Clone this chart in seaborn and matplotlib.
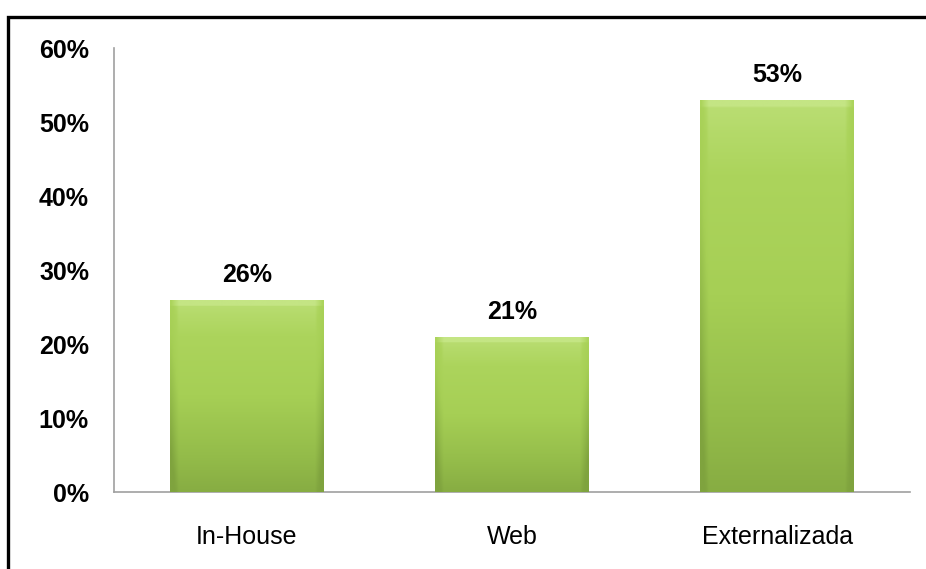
import numpy as np
import pandas as pd
import matplotlib
matplotlib.use("Agg")
import matplotlib.pyplot as plt
import seaborn as sns
from matplotlib.colors import LinearSegmentedColormap
from matplotlib.patches import Rectangle

# ── data ────────────────────────────────────────────────────────────────────
categories = ["In-House", "Web", "Externalizada"]
values = [26, 21, 53]
y_ticks = [0, 10, 20, 30, 40, 50, 60]
y_tick_labels = ["0%", "10%", "20%", "30%", "40%", "50%", "60%"]

df = pd.DataFrame({"categoria": categories, "valor": values})

sns.set_theme(style="white")
plt.rcParams["font.family"] = ["Liberation Sans", "DejaVu Sans"]
plt.rcParams["text.color"] = "black"
plt.rcParams["xtick.color"] = "black"
plt.rcParams["ytick.color"] = "black"

fig = plt.figure(figsize=(9.26, 5.69), dpi=100)
ax = fig.add_axes([114 / 926, 77 / 569, 796 / 926, 444 / 569])

sns.barplot(data=df, x="categoria", y="valor", ax=ax, color="#a6cf55",
            width=0.58, saturation=1, edgecolor="none")

ax.set_ylim(0, 60)
ax.set_xlim(-0.5, len(categories) - 0.5)
ax.set_yticks(y_ticks)
ax.set_yticklabels(y_tick_labels, fontsize=18, fontweight="bold", color="black")
ax.set_xticks(range(len(categories)))
ax.set_xticklabels(categories, fontsize=18, color="black")
ax.tick_params(axis="y", length=0, pad=18)
ax.tick_params(axis="x", length=0, pad=24)
ax.set_xlabel("")
ax.set_ylabel("")

for side in ["top", "right"]:
    ax.spines[side].set_visible(False)
for side in ["left", "bottom"]:
    ax.spines[side].set_color("#a0a0a0")
    ax.spines[side].set_linewidth(1.2)

# ── gradient fill for bars ──────────────────────────────────────────────────
cmap = LinearSegmentedColormap.from_list(
    "verde", ["#7fa33e", "#94bc4a", "#a6cf55", "#acd45c", "#c4e584"])
for bar in ax.patches:
    x0, w, h = bar.get_x(), bar.get_width(), bar.get_height()
    ny = 200
    ramp = np.linspace(0, 1, ny)[:, None]
    grad = np.clip(0.1 + 0.8 * ramp, 0, 1)
    # light bevel at the top
    top_px = (np.linspace(0, h, ny) > h - 0.8)[:, None]
    img = np.repeat(grad, 60, axis=1)
    img = np.where(top_px, 1.0, img)
    # darker edges left/right
    xs = np.linspace(0, 1, 60)[None, :]
    edge = np.clip(1 - np.minimum(xs, 1 - xs) / 0.05, 0, 1)
    img = img - 0.25 * edge
    im = ax.imshow(img, cmap=cmap, vmin=0, vmax=1, origin="lower",
                   extent=[x0, x0 + w, 0, h], aspect="auto", zorder=3,
                   interpolation="bilinear")
    im.set_clip_path(bar)

for bar, v in zip(ax.patches, values):
    ax.annotate(f"{v}%", (bar.get_x() + bar.get_width() / 2, bar.get_height()),
                xytext=(0, 9), textcoords="offset points", ha="center",
                va="bottom", fontsize=18, fontweight="bold", color="black",
                zorder=5)

ax.set_xlim(-0.5, len(categories) - 0.5)
ax.set_ylim(0, 60)

# frame around the chart (only top and left visible in the crop)
fig.patches.append(Rectangle((8 / 926, -0.1), 1.2, (569 - 16.5) / 569 + 0.1,
                             transform=fig.transFigure, fill=False,
                             edgecolor="black", linewidth=2.4))

fig.savefig("out.png", dpi=100)
